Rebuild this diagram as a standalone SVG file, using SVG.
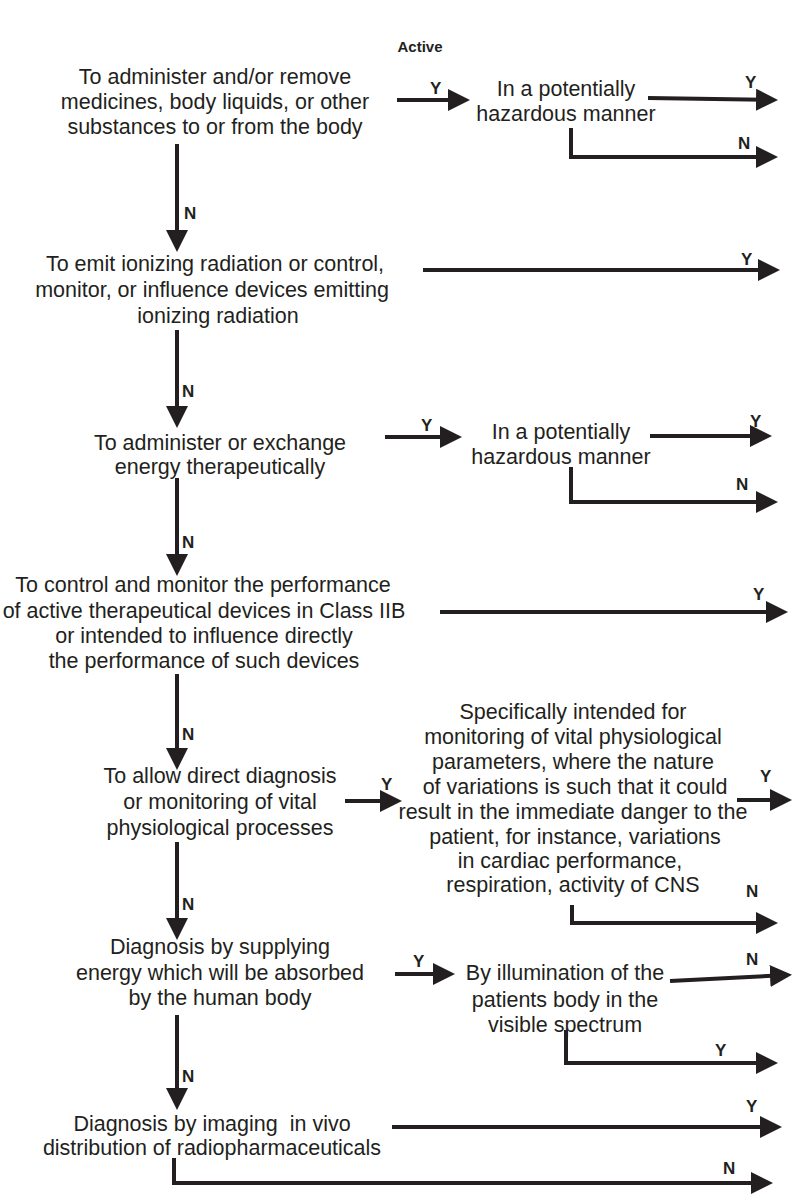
<svg xmlns="http://www.w3.org/2000/svg" width="792" height="1196" viewBox="0 0 792 1196">
  <style>
    .t { font-family: "Liberation Sans", Arial, sans-serif; font-size: 21.5px; fill: #231f20; text-anchor: middle; }
    .lbl { font-family: "Liberation Sans", Arial, sans-serif; font-size: 17px; font-weight: bold; fill: #231f20; }
    .title { font-family: "Liberation Sans", Arial, sans-serif; font-size: 15px; font-weight: bold; fill: #231f20; text-anchor: middle; }
    .c { fill: none; stroke: #231f20; stroke-width: 4; marker-end: url(#head); }
  </style>
  <defs>
    <marker id="head" markerUnits="userSpaceOnUse" markerWidth="22" markerHeight="22" refX="18" refY="11" orient="auto">
      <path d="M0,0 L22,11 L0,22 Z" fill="#231f20"/>
    </marker>
  </defs>
  <rect width="792" height="1196" fill="#ffffff"/>

  <text class="title" x="420" y="52">Active</text>

  <!-- decision nodes -->
  <g id="n1">
    <text class="t" x="215" y="84">To administer and/or remove</text>
    <text class="t" x="215" y="109">medicines, body liquids, or other</text>
    <text class="t" x="215" y="134">substances to or from the body</text>
  </g>
  <g id="n1b">
    <text class="t" x="566" y="96">In a potentially</text>
    <text class="t" x="566" y="121">hazardous manner</text>
  </g>
  <g id="n2">
    <text class="t" x="215" y="271">To emit ionizing radiation or control,</text>
    <text class="t" x="212" y="297">monitor, or influence devices emitting</text>
    <text class="t" x="218" y="323">ionizing radiation</text>
  </g>
  <g id="n3">
    <text class="t" x="220" y="450">To administer or exchange</text>
    <text class="t" x="220" y="474">energy therapeutically</text>
  </g>
  <g id="n3b">
    <text class="t" x="561" y="439">In a potentially</text>
    <text class="t" x="561" y="464">hazardous manner</text>
  </g>
  <g id="n4">
    <text class="t" x="203" y="592">To control and monitor the performance</text>
    <text class="t" x="204" y="618">of active therapeutical devices in Class IIB</text>
    <text class="t" x="204" y="643">or intended to influence directly</text>
    <text class="t" x="204" y="668">the performance of such devices</text>
  </g>
  <g id="n5">
    <text class="t" x="220" y="783">To allow direct diagnosis</text>
    <text class="t" x="220" y="809">or monitoring of vital</text>
    <text class="t" x="220" y="835">physiological processes</text>
  </g>
  <g id="n5b">
    <text class="t" x="573" y="719">Specifically intended for</text>
    <text class="t" x="573" y="744">monitoring of vital physiological</text>
    <text class="t" x="573" y="769">parameters, where the nature</text>
    <text class="t" x="575" y="794">of variations is such that it could</text>
    <text class="t" x="573" y="819">result in the immediate danger to the</text>
    <text class="t" x="575" y="844">patient, for instance, variations</text>
    <text class="t" x="570" y="868">in cardiac performance,</text>
    <text class="t" x="573" y="892">respiration, activity of CNS</text>
  </g>
  <g id="n6">
    <text class="t" x="220" y="954">Diagnosis by supplying</text>
    <text class="t" x="220" y="980">energy which will be absorbed</text>
    <text class="t" x="220" y="1005">by the human body</text>
  </g>
  <g id="n6b">
    <text class="t" x="565" y="980">By illumination of the</text>
    <text class="t" x="565" y="1007">patients body in the</text>
    <text class="t" x="565" y="1032">visible spectrum</text>
  </g>
  <g id="n7">
    <text class="t" x="212" y="1131" style="white-space:pre">Diagnosis by imaging  in vivo</text>
    <text class="t" x="212" y="1155">distribution of radiopharmaceuticals</text>
  </g>

  <!-- connectors -->
  <g id="connectors">
    <path class="c" d="M397,100 H466"/>
    <path class="c" d="M648,98 L774,100"/>
    <path class="c" d="M571,128 V157 H774"/>
    <path class="c" d="M177,144 V248"/>

    <path class="c" d="M423,270 H776"/>
    <path class="c" d="M177,330 V424"/>

    <path class="c" d="M385,437 H458"/>
    <path class="c" d="M650,436 H768"/>
    <path class="c" d="M571,467 V502 H774"/>
    <path class="c" d="M177,478 V572"/>

    <path class="c" d="M440,612 H784"/>
    <path class="c" d="M177,674 V766"/>

    <path class="c" d="M345,801 H398"/>
    <path class="c" d="M737,800 H788"/>
    <path class="c" d="M572,905 V923 H774"/>
    <path class="c" d="M177,842 V936"/>

    <path class="c" d="M395,974 H451"/>
    <path class="c" d="M670,981 L788,975"/>
    <path class="c" d="M566,1030 V1063 H774"/>
    <path class="c" d="M177,1015 V1106"/>

    <path class="c" d="M392,1127 H778"/>
    <path class="c" d="M174,1158 V1183 H769"/>
  </g>

  <!-- branch labels -->
  <g id="labels">
    <text class="lbl" x="430" y="94">Y</text>
    <text class="lbl" x="745" y="88">Y</text>
    <text class="lbl" x="738" y="149">N</text>
    <text class="lbl" x="184" y="219">N</text>
    <text class="lbl" x="741" y="265">Y</text>
    <text class="lbl" x="182" y="397">N</text>
    <text class="lbl" x="421" y="431">Y</text>
    <text class="lbl" x="750" y="427">Y</text>
    <text class="lbl" x="736" y="490">N</text>
    <text class="lbl" x="182" y="548">N</text>
    <text class="lbl" x="753" y="600">Y</text>
    <text class="lbl" x="182" y="740">N</text>
    <text class="lbl" x="381" y="790">Y</text>
    <text class="lbl" x="760" y="782">Y</text>
    <text class="lbl" x="746" y="897">N</text>
    <text class="lbl" x="182" y="910">N</text>
    <text class="lbl" x="413" y="967">Y</text>
    <text class="lbl" x="746" y="965">N</text>
    <text class="lbl" x="715" y="1056">Y</text>
    <text class="lbl" x="182" y="1082">N</text>
    <text class="lbl" x="746" y="1112">Y</text>
    <text class="lbl" x="723" y="1174">N</text>
  </g>
</svg>
